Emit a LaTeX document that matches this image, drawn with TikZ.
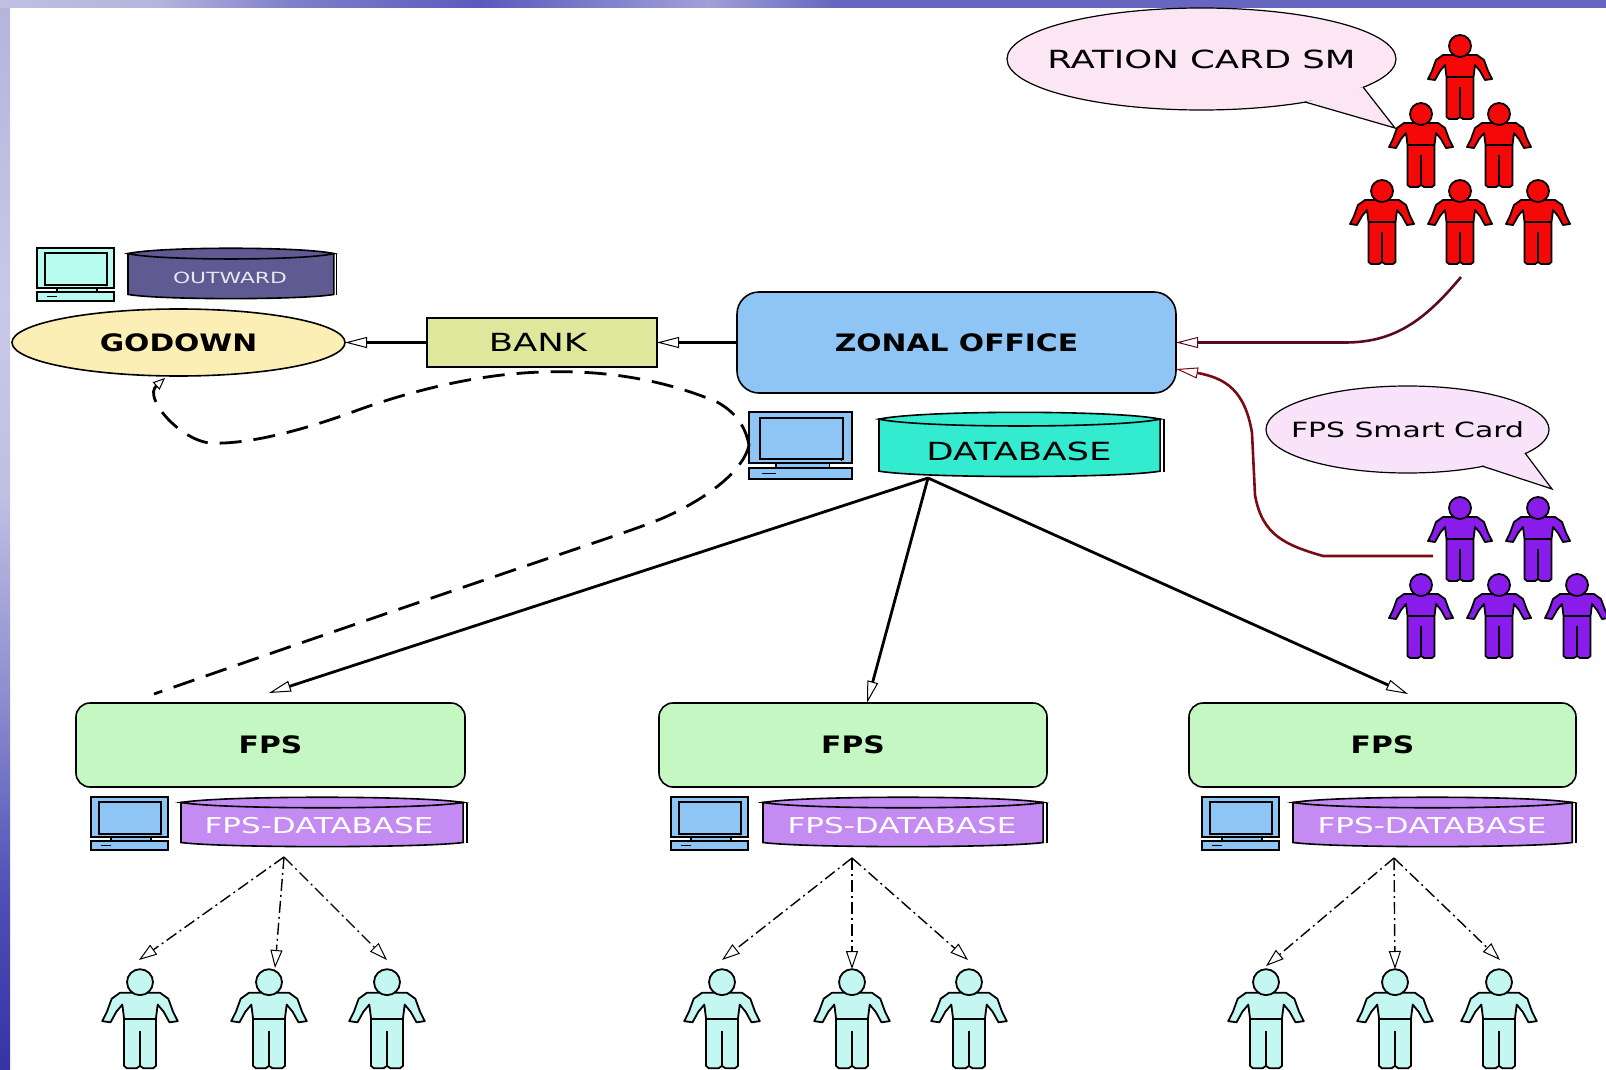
\documentclass[tikz,border=0pt]{standalone}
\usepackage{fontspec}
\setmainfont{DejaVu Sans}[FakeStretch=1.42,BoldFeatures={FakeStretch=1.24}]
\usetikzlibrary{arrows.meta,shapes.geometric}
\definecolor{zonalblue}{HTML}{8EC5F5}
\definecolor{bankgreen}{HTML}{DEE89C}
\definecolor{godownyellow}{HTML}{FBEFB5}
\definecolor{fpsgreen}{HTML}{C5F7C2}
\definecolor{tealdb}{HTML}{33EBCF}
\definecolor{violetdb}{HTML}{C48CF2}
\definecolor{slatedb}{HTML}{5F5A92}
\definecolor{rationpink}{HTML}{FCE6F3}
\definecolor{smartpink}{HTML}{F8E3FB}
\definecolor{peoplered}{HTML}{F50808}
\definecolor{peoplepurple}{HTML}{8A1CEB}
\definecolor{peoplecyan}{HTML}{C4F7F2}
\definecolor{pccyan}{HTML}{B8FBEF}
\definecolor{linkplum}{HTML}{5A0A28}
\definecolor{linkred}{HTML}{7A0A14}
\definecolor{stripa}{HTML}{3434A6}
\definecolor{stripb}{HTML}{4E4EB6}
\definecolor{stripc}{HTML}{8A8ACF}
\definecolor{stripd}{HTML}{C0C0E4}
\definecolor{stripe}{HTML}{C8C8E8}
\definecolor{stripf}{HTML}{B4B4DC}
\definecolor{stripg}{HTML}{8080CC}
\definecolor{striph}{HTML}{5A5ABE}
\definecolor{stripi}{HTML}{A0A0D8}
\definecolor{stripj}{HTML}{6666C0}
\pgfdeclareverticalshading{sidestrip}{100bp}{
  color(0bp)=(stripa); color(25bp)=(stripa); color(33bp)=(stripb); color(42bp)=(stripc);
  color(52bp)=(stripd); color(61bp)=(stripe); color(75bp)=(stripf); color(100bp)=(stripf)}
\pgfdeclarehorizontalshading{topstrip}{100bp}{
  color(0bp)=(stripd); color(25bp)=(stripd); color(30bp)=(stripf); color(34bp)=(stripg);
  color(40bp)=(striph); color(47bp)=(stripi); color(51bp)=(stripj); color(100bp)=(stripj)}
\tikzset{every picture/.style={line width=0.5pt}}
\tikzset{
  officebox/.style={draw,line width=0.8pt,outer sep=0pt,inner sep=0pt,align=center},
  drumtext/.style={inner sep=0pt,outer sep=0pt},
  bubble/.style={draw,ellipse,line width=0.6pt,inner ysep=0pt,inner xsep=-10pt,outer sep=0pt},
  solidlink/.style={line width=1.4pt,-{Triangle[open,fill=white,length=11pt,width=5.5pt,line width=0.5pt]}},
  curvelink/.style={line width=1.3pt,-{Triangle[open,fill=white,length=11pt,width=5.5pt,line width=0.5pt]}},
  dashlink/.style={line width=1.4pt,dash pattern={on 11pt off 6pt}},
  dashtip/.style={-{Triangle[open,fill=white,length=6pt,width=5pt,line width=0.5pt]}},
  dotlink/.style={line width=0.7pt,dash pattern={on 6pt off 2pt on 1pt off 2pt},-{Triangle[open,fill=white,length=9pt,width=6pt,line width=0.5pt]}},
  pics/person/.style={code={
    \draw [fill=#1,line width=0.9pt,line join=round] (-17,10) -- (-24,15) -- (-28,26) -- (-32,34) -- (-25,35) -- (-20,26) -- (-15,20) -- (-13.5,32) -- (-13.5,72) -- (-11,74) -- (-3,74) -- (0,72) -- (3,74) -- (11,74) -- (13.5,72) -- (13.5,32) -- (15,20) -- (20,26) -- (25,35) -- (32,34) -- (28,26) -- (24,15) -- (17,10) -- cycle;
    \draw [line width=0.9pt] (-13.5,32) -- (13.5,32) (0,42) -- (0,72);
    \draw [fill=#1,line width=0.9pt] (0,1) circle [radius=11];
  }},
  pics/desktop/.style={code={
    \draw [fill=#1,line width=0.9pt] (0,0) rectangle (77,40);
    \draw [line width=0.9pt] (8,5) rectangle (70,37);
    \draw [fill=#1,line width=0.7pt] (20,40) rectangle (60,44);
    \draw [fill=#1,line width=0.9pt] (0,44) rectangle (77,53);
    \draw [line width=0.7pt] (10,48.5) -- (20,48.5);
    \fill (69,38) circle [radius=0.6];
  }},
  pics/drum/.style={code={
    \draw [fill=#1,line width=0.8pt] (0,11) -- (0,91) .. controls (15,102) and (84,102) .. (99,91) -- (99,11) -- cycle;
    \draw [fill=#1,line width=0.8pt] (0,11) .. controls (15,-3) and (84,-3) .. (99,11) .. controls (84,25) and (15,25) .. (0,11) -- cycle;
    \draw [line width=0.8pt] (100.3,11) -- (100.3,92);
  }}
}
\begin{document}
\begin{tikzpicture}[x=0.5pt,y=0.5pt,yscale=-1,xscale=1]
\useasboundingbox (0,0) rectangle (1606,1070);

%Background strips
\shade [shading=sidestrip] (0,0) rectangle (10,1070);
\shade [shading=topstrip] (0,0) rectangle (1606,8);

%People
\pic [transform shape] at (1460,45) {person=peoplered};
\pic [transform shape] at (1421,113) {person=peoplered};
\pic [transform shape] at (1499,113) {person=peoplered};
\pic [transform shape] at (1382,190) {person=peoplered};
\pic [transform shape] at (1460,190) {person=peoplered};
\pic [transform shape] at (1538,190) {person=peoplered};
\pic [transform shape] at (1460,507) {person=peoplepurple};
\pic [transform shape] at (1538,507) {person=peoplepurple};
\pic [transform shape] at (1421,584) {person=peoplepurple};
\pic [transform shape] at (1499,584) {person=peoplepurple};
\pic [transform shape] at (1577,584) {person=peoplepurple};
\pic [transform shape,scale=1.18] at (140,981) {person=peoplecyan};
\pic [transform shape,scale=1.18] at (269,981) {person=peoplecyan};
\pic [transform shape,scale=1.18] at (387,981) {person=peoplecyan};
\pic [transform shape,scale=1.18] at (722,981) {person=peoplecyan};
\pic [transform shape,scale=1.18] at (852,981) {person=peoplecyan};
\pic [transform shape,scale=1.18] at (969,981) {person=peoplecyan};
\pic [transform shape,scale=1.18] at (1266,981) {person=peoplecyan};
\pic [transform shape,scale=1.18] at (1395,981) {person=peoplecyan};
\pic [transform shape,scale=1.18] at (1499,981) {person=peoplecyan};

%Computers
\pic [transform shape] at (37,248) {desktop=pccyan};
\pic [transform shape,xscale=1.34,yscale=1.27] at (749,412) {desktop=zonalblue};
\pic [transform shape] at (91,797) {desktop=zonalblue};
\pic [transform shape] at (671,797) {desktop=zonalblue};
\pic [transform shape] at (1202,797) {desktop=zonalblue};

%Drums
\pic [transform shape,xscale=2.08,yscale=0.51] at (128,248) {drum=slatedb};
\pic [transform shape,xscale=2.84,yscale=0.65] at (879,412) {drum=tealdb};
\pic [transform shape,xscale=2.85,yscale=0.50] at (181,797) {drum=violetdb};
\pic [transform shape,xscale=2.83,yscale=0.50] at (763,797) {drum=violetdb};
\pic [transform shape,xscale=2.82,yscale=0.50] at (1293,797) {drum=violetdb};

% Text Node
\node (godown) [officebox,ellipse,fill=godownyellow,minimum width=166.5pt,minimum height=33.5pt,font=\bfseries\fontsize{12}{14}\selectfont] at (178.5,342.5) {GODOWN};
% Text Node
\node (bank) [officebox,fill=bankgreen,minimum width=115pt,minimum height=24.5pt,font=\fontsize{12.5}{14}\selectfont] at (542,342.5) {BANK\hspace{4pt}};
% Text Node
\node (zonal) [officebox,rounded corners=11pt,fill=zonalblue,minimum width=219.5pt,minimum height=50.5pt,font=\bfseries\fontsize{12}{14}\selectfont] at (956.5,342.5) {ZONAL OFFICE};
% Text Node
\node (fpsa) [officebox,rounded corners=7pt,fill=fpsgreen,minimum width=194.5pt,minimum height=42pt,font=\bfseries\fontsize{12}{14}\selectfont] at (270.5,745) {FPS};
% Text Node
\node (fpsb) [officebox,rounded corners=7pt,fill=fpsgreen,minimum width=194pt,minimum height=42pt,font=\bfseries\fontsize{12}{14}\selectfont] at (853,745) {FPS};
% Text Node
\node (fpsc) [officebox,rounded corners=7pt,fill=fpsgreen,minimum width=193.5pt,minimum height=42pt,font=\bfseries\fontsize{12}{14}\selectfont] at (1382.5,745) {FPS};
% Text Node
\node (outward) [drumtext,text=white!85!slatedb,font=\fontsize{7.7}{10}\selectfont] at (230,278) {OUTWARD};
% Text Node
\node (database) [drumtext,font=\fontsize{12.5}{14}\selectfont] at (1019,451) {DATABASE};
% Text Node
\node (fpsdba) [drumtext,text=white,font=\fontsize{10.9}{14}\selectfont] at (319,826) {FPS-DATABASE};
% Text Node
\node (fpsdbb) [drumtext,text=white,font=\fontsize{10.9}{14}\selectfont] at (902,826) {FPS-DATABASE};
% Text Node
\node (fpsdbc) [drumtext,text=white,font=\fontsize{10.9}{14}\selectfont] at (1432,826) {FPS-DATABASE};
% Text Node
\node (ration) [bubble,fill=rationpink,minimum width=194.5pt,minimum height=51pt,font=\fontsize{12.5}{14}\selectfont] at (1201.5,59) {RATION CARD SM};
% Text Node
\node (smart) [bubble,fill=smartpink,minimum width=141.5pt,minimum height=43.5pt,font=\fontsize{10.5}{12}\selectfont] at (1407.5,429.5) {FPS Smart Card};

%Free ends
\coordinate (dbfoot) at (928,478);
\coordinate (dbpc) at (749,445);
\coordinate (godownfoot) at (165,378);
\coordinate (dashend) at (154,694);
\coordinate (rationend) at (1461,277);
\coordinate (smartend) at (1433,556);
\coordinate (zonaltop) at (1176,342.5);
\coordinate (zonallow) at (1176,369);
\coordinate (fpsatip) at (269,693);
\coordinate (fpsbtip) at (867,703);
\coordinate (fpsctip) at (1408,694);
\coordinate (forka) at (284,857);
\coordinate (forkb) at (852,858);
\coordinate (forkc) at (1394,858);
\coordinate (rationa) at (1363,87);
\coordinate (rationb) at (1305,102);
\coordinate (rationtip) at (1395,128);
\coordinate (smarta) at (1525,453);
\coordinate (smartb) at (1482,466);
\coordinate (smarttip) at (1552,489);

%Bubble tails
\fill [rationpink] (rationa) -- (rationtip) -- (rationb) -- cycle;
\draw [line width=0.6pt] (rationa) -- (rationtip) -- (rationb);
\fill [smartpink] (smarta) -- (smarttip) -- (smartb) -- cycle;
\draw [line width=0.6pt] (smarta) -- (smarttip) -- (smartb);

%Straight Lines
\draw [solidlink] (bank) -- (godown);
\draw [solidlink] (zonal.west) -- (bank.east);
\draw [solidlink] (dbfoot) -- (fpsatip);
\draw [solidlink] (dbfoot) -- (fpsbtip);
\draw [solidlink] (dbfoot) -- (fpsctip);
%Curve Lines
\draw [curvelink,color=linkplum] (rationend) .. controls (1425,320) and (1395,342.5) .. (1345,342.5) -- (zonaltop);
\draw [curvelink,color=linkred] (smartend) -- (1323,556) .. controls (1285,545) and (1262,535) .. (1255,495) -- (1252,433) .. controls (1245,390) and (1225,378) .. (zonallow);
%Dashed Lines
\draw [dashlink,dashtip] (dbpc) .. controls (745,425) and (735,412) .. (717,402) .. controls (660,378) and (600,370) .. (543,372) .. controls (470,374) and (400,395) .. (358,410) .. controls (310,428) and (250,445) .. (210,443) .. controls (180,440) and (143,398) .. (godownfoot);
\draw [dashlink] (dbpc) .. controls (745,465) and (720,490) .. (676,512) .. controls (640,530) and (610,535) .. (dashend);
%Dash Dot Lines
\draw [dotlink] (forka) -- (139,960);
\draw [dotlink] (forka) -- (275,968);
\draw [dotlink] (forka) -- (387,960);
\draw [dotlink] (forkb) -- (722,960);
\draw [dotlink] (forkb) -- (852,969);
\draw [dotlink] (forkb) -- (968,960);
\draw [dotlink] (forkc) -- (1266,966);
\draw [dotlink] (forkc) -- (1395,969);
\draw [dotlink] (forkc) -- (1500,960);
\end{tikzpicture}
\end{document}
